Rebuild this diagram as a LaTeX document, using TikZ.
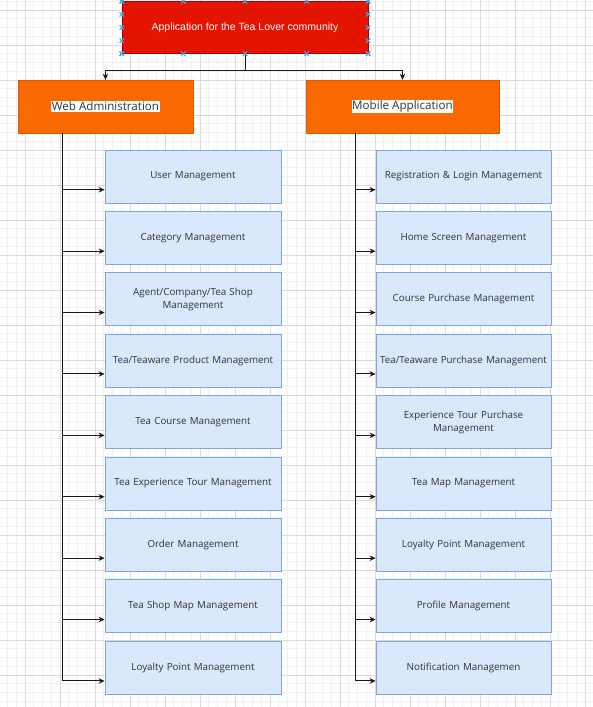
\documentclass[tikz,border=0pt]{standalone}
\usepackage{fontspec}
\setmainfont{Open Sans}
\newfontfamily\arialfont{Liberation Sans}
\usetikzlibrary{arrows.meta,calc}
\definecolor{gridmin}{HTML}{F1F1F1}
\definecolor{gridmaj}{HTML}{DADADA}
\definecolor{appred}{HTML}{E51400}
\definecolor{appredline}{HTML}{B20000}
\definecolor{orfill}{HTML}{FA6800}
\definecolor{orline}{HTML}{D95A00}
\definecolor{modfill}{HTML}{DAE8FC}
\definecolor{modline}{HTML}{7EA6E0}
\definecolor{txt}{HTML}{333333}
\definecolor{handle}{HTML}{3BA9E6}
\setlength{\fboxsep}{0.6pt}
\hyphenpenalty=10000
\begin{document}
\begin{tikzpicture}[x=1pt,y=-1pt,>={Stealth[length=6pt,width=5.5pt]},
  appbox/.style={draw=appredline,fill=appred,minimum width=246pt,minimum height=52pt,
    text=white,font=\arialfont\fontsize{10.5}{12}\selectfont},
  partbox/.style={draw=orline,fill=orfill,minimum height=53pt,text=txt,
    font=\fontsize{11.6}{13}\selectfont},
  modbox/.style={draw=modline,fill=modfill,line width=0.8pt,minimum height=53pt,
    inner xsep=1pt,text width=172pt,align=center,text=txt,
    font=\fontsize{9.8}{13}\selectfont},
  conn/.style={->,line width=1pt,black!90},
  handlemark/.style={draw=handle,line width=1.1pt}]
\useasboundingbox (0,0) rectangle (593,707);
% grid
\foreach \x in {7.5,16.25,...,593}{\draw[gridmin,line width=0.6pt] (\x,0)--(\x,707);}
\foreach \y in {1.25,10,...,707}{\draw[gridmin,line width=0.6pt] (0,\y)--(593,\y);}
\foreach \x in {25,60,...,593}{\draw[gridmaj,line width=0.7pt] (\x,0)--(\x,707);}
\foreach \y in {10,45,...,707}{\draw[gridmaj,line width=0.7pt] (0,\y)--(593,\y);}
% main boxes
\node[appbox] (app) at (245,27.5) {Application for the Tea Lover community};
\node[partbox,minimum width=175pt] (web) at (105.5,106.5) {\colorbox{white}{Web Administration}};
\node[partbox,minimum width=193pt] (mob) at (402.5,106.5) {\colorbox{white}{Mobile Application}};
\draw[conn] (app.south) -- ++(0,17) -| (web.north);
\draw[conn] (app.south) -- ++(0,17) -| (mob.north);
% trunks
\coordinate (wx) at (62,0);
\coordinate (mx) at (355,0);
% web administration modules
\foreach \t [count=\i from 0] in {{User Management},{Category Management},
  {Agent/Company/Tea Shop\\Management},{Tea/Teaware Product Management},
  {Tea Course Management},{Tea Experience Tour Management},{Order Management},
  {Tea Shop Map Management},{Loyalty Point Management}}{
  \node[modbox,minimum width=176pt] (w\i) at (193,176.5+61.4*\i) {\t};
  \draw[conn] (web.south -| wx) |- ([yshift=-13.25pt]w\i.west);
}
% mobile application modules
\foreach \t [count=\i from 0] in {{Registration \& Login Management},
  {Home Screen Management},{Course Purchase Management},
  {Tea/Teaware Purchase Management},{Experience Tour Purchase\\Management},
  {Tea Map Management},{Loyalty Point Management},{Profile Management},
  {Notification Managemen}}{
  \node[modbox,minimum width=175pt] (m\i) at (463.5,176.5+61.4*\i) {\t};
  \draw[conn] (mob.south -| mx) |- ([yshift=-13.25pt]m\i.west);
}
% selection handles
\foreach \p in {0,0.25,0.5,0.75,1}{
  \foreach \q in {app.north west,app.south west}{
    \coordinate (h) at ($(\q)!\p!(\q -| app.east)$);
    \draw[handlemark] ([shift={(-2.2,-2.2)}]h) -- ([shift={(2.2,2.2)}]h)
      ([shift={(-2.2,2.2)}]h) -- ([shift={(2.2,-2.2)}]h);}
  \foreach \q in {app.north west,app.north east}{
    \coordinate (h) at ($(\q)!\p!(\q |- app.south)$);
    \draw[handlemark] ([shift={(-2.2,-2.2)}]h) -- ([shift={(2.2,2.2)}]h)
      ([shift={(-2.2,2.2)}]h) -- ([shift={(2.2,-2.2)}]h);}
}
\end{tikzpicture}
\end{document}
